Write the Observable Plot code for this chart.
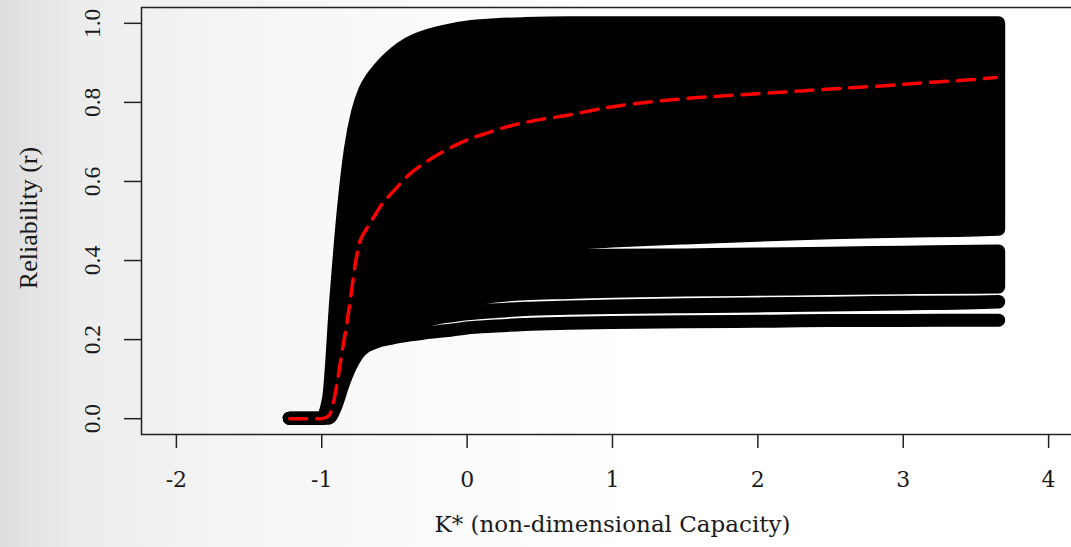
<!DOCTYPE html>
<html>
<head>
<meta charset="utf-8">
<script src="https://cdn.jsdelivr.net/npm/d3@7"></script>
<script src="https://cdn.jsdelivr.net/npm/@observablehq/plot@0.6"></script>
<style>
  html, body { margin: 0; padding: 0; overflow: hidden; width: 1071px; height: 547px; }
  body { background: linear-gradient(to right, #dedede 0%, #ededed 8%, #f6f6f6 25%, #fcfcfc 45%, #ffffff 60%); }
  #chart { width: 1083px; height: 547px; }
</style>
</head>
<body>
<div id="chart"></div>
<script>
// Shared K* grid for the simulated reliability curves
const K = [-1.22, -1.1, -1.0, -0.95, -0.9, -0.85, -0.8, -0.75, -0.7, -0.65, -0.6, -0.55, -0.5, -0.4, -0.3, -0.2, -0.1, 0, 0.2, 0.4, 0.7, 1.0, 1.5, 2.0, 2.5, 3.0, 3.5, 3.66];

// Band A (upper cloud of curves)
const bandAHigh = [0, 0, 0, 0.05, 0.30, 0.52, 0.68, 0.775, 0.83, 0.862, 0.885, 0.905, 0.922, 0.948, 0.964, 0.975, 0.983, 0.989, 0.995, 0.998, 1.0, 1.0, 1.0, 1.0, 1.0, 1.0, 1.0, 1.0];
const bandALow  = [0, 0, 0, 0.01, 0.08, 0.20, 0.29, 0.34, 0.365, 0.376, 0.385, 0.39, 0.395, 0.402, 0.408, 0.413, 0.418, 0.422, 0.428, 0.434, 0.442, 0.448, 0.456, 0.463, 0.469, 0.473, 0.476, 0.478];
// Band B (middle cloud)
const bandBHigh = [0, 0, 0, 0.01, 0.07, 0.18, 0.26, 0.31, 0.34, 0.352, 0.362, 0.369, 0.375, 0.384, 0.39, 0.395, 0.399, 0.402, 0.406, 0.409, 0.412, 0.412, 0.413, 0.415, 0.417, 0.42, 0.422, 0.423];
const bandBLow  = [0, 0, 0, 0.01, 0.06, 0.14, 0.19, 0.22, 0.245, 0.256, 0.264, 0.27, 0.274, 0.281, 0.286, 0.29, 0.293, 0.297, 0.309, 0.315, 0.318, 0.321, 0.324, 0.326, 0.328, 0.33, 0.331, 0.332];
// Band C (thin group)
const bandCHigh = [0, 0, 0, 0.008, 0.05, 0.12, 0.17, 0.20, 0.218, 0.228, 0.236, 0.242, 0.246, 0.253, 0.258, 0.262, 0.265, 0.268, 0.274, 0.278, 0.281, 0.284, 0.287, 0.289, 0.291, 0.293, 0.294, 0.295];
const bandCLow  = [0, 0, 0, 0.005, 0.04, 0.10, 0.15, 0.18, 0.20, 0.212, 0.222, 0.227, 0.231, 0.238, 0.244, 0.254, 0.259, 0.264, 0.27, 0.275, 0.278, 0.28, 0.282, 0.284, 0.286, 0.289, 0.292, 0.294];
// Lowest curve
const curveD    = [0, 0, 0, 0, 0.03, 0.085, 0.13, 0.162, 0.18, 0.189, 0.196, 0.2, 0.204, 0.21, 0.215, 0.219, 0.223, 0.228, 0.233, 0.237, 0.24, 0.242, 0.244, 0.245, 0.247, 0.247, 0.248, 0.248];

// Median (red dashed) curve
const medianK = [-1.22, -1.0, -0.95, -0.92, -0.89, -0.86, -0.83, -0.8, -0.77, -0.74, -0.7, -0.65, -0.6, -0.5, -0.4, -0.3, -0.2, -0.1, 0, 0.15, 0.3, 0.45, 0.7, 0.85, 1.0, 1.3, 1.7, 2.0, 2.3, 2.55, 2.9, 3.2, 3.45, 3.64];
const medianR = [0, 0, 0.008, 0.04, 0.10, 0.17, 0.235, 0.31, 0.39, 0.445, 0.475, 0.505, 0.535, 0.578, 0.617, 0.645, 0.668, 0.688, 0.705, 0.724, 0.741, 0.753, 0.768, 0.779, 0.789, 0.803, 0.815, 0.822, 0.829, 0.835, 0.843, 0.851, 0.857, 0.863];

const xTicks = [-2, -1, 0, 1, 2, 3, 4];
const yTicks = [0, 0.2, 0.4, 0.6, 0.8, 1.0];
const xTitle = "K* (non-dimensional Capacity)";
const yTitle = "Reliability (r)";

const bands = [
  ["A", bandALow, bandAHigh],
  ["B", bandBLow, bandBHigh],
  ["C", bandCLow, bandCHigh],
  ["D", curveD, curveD]
];
const bandRows = bands.flatMap(([name, lo, hi]) => K.map((k, i) => ({band: name, k, lo: lo[i], hi: hi[i]})));
const medianRows = medianK.map((k, i) => ({k, r: medianR[i]}));

const chart = Plot.plot({
  width: 1083,
  height: 547,
  marginLeft: 141,
  marginRight: 0,
  marginTop: 7,
  marginBottom: 113,
  style: {background: "transparent", maxWidth: "none", height: "547px", overflow: "visible"},
  x: {domain: [-2.24, 4.24]},
  y: {domain: [-0.04, 1.04]},
  marks: [
    Plot.areaY(bandRows, {x: "k", y1: "lo", y2: "hi", z: "band", fill: "black", stroke: "black", strokeWidth: 13, strokeLinejoin: "round", curve: "monotone-x"}),
    Plot.line(medianRows, {x: "k", y: "r", stroke: "#ff0000", strokeWidth: 3.5, strokeDasharray: "17,10", curve: "monotone-x"}),
    Plot.frame({stroke: "#222", strokeWidth: 1.5}),
    Plot.axisX(xTicks, {tickSize: 14, tickFormat: () => "", label: null, stroke: "#222", strokeWidth: 1.5}),
    Plot.axisY(yTicks, {tickSize: 17, tickFormat: () => "", label: null, stroke: "#222", strokeWidth: 1.5}),
    Plot.text(xTicks, {x: d => d, text: d => String(d), frameAnchor: "bottom", dy: 45, lineAnchor: "middle", fontFamily: "DejaVu Serif", fontSize: 22, fill: "#1a1a1a"}),
    Plot.text(yTicks, {y: d => d, text: d => d.toFixed(1), frameAnchor: "left", dx: -49, rotate: -90, textAnchor: "middle", lineAnchor: "middle", fontFamily: "Liberation Serif", fontSize: 23.5, fill: "#1a1a1a"}),
    Plot.text([xTitle], {text: d => d, frameAnchor: "bottom", dy: 90, lineAnchor: "middle", fontFamily: "DejaVu Serif", fontSize: 23, fill: "#1a1a1a"}),
    Plot.text([yTitle], {text: d => d, frameAnchor: "left", dx: -113, dy: -3, rotate: -90, textAnchor: "middle", lineAnchor: "middle", fontFamily: "Liberation Serif", fontSize: 26, fill: "#1a1a1a"})
  ]
});
chart.style.background = "transparent";
chart.style.maxWidth = "none";
document.getElementById("chart").appendChild(chart);
</script>
</body>
</html>
